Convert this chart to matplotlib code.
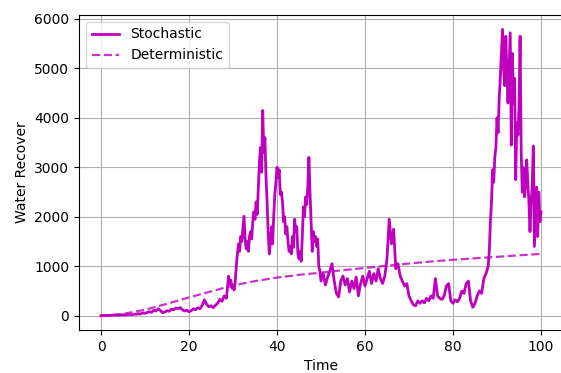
import numpy as np
import matplotlib
matplotlib.use("Agg")
import matplotlib.pyplot as plt

# ================= 数据 =================
# Stochastic: 分段给出，每段有起点和步长
seg_a_start, seg_a_step = 0.0, 0.5
seg_a_vals = [0, 3, 5, 2, 6, 10, 8, 12, 10, 15, 18, 12, 20, 25, 18, 30, 28, 40, 35, 55,
              48, 65, 80, 70, 110, 95, 140, 105, 60, 75, 100, 90, 130, 120, 155, 140, 165, 120, 95, 110,
              80, 100, 140, 120, 160, 140, 210, 320, 230, 180, 200, 160, 210, 250, 330, 290, 400, 350]

seg_b_start, seg_b_step = 29.0, 0.25
seg_b_vals = [800, 650, 720, 560, 620, 520, 680, 1000, 1250, 1450, 1300, 1600, 1500, 1750, 2010,
              1550, 1350, 1500, 1300, 1600, 1700, 1550, 1900, 2100, 1950, 2300, 2050, 2600, 3100, 3400,
              2900, 4150, 3300, 3600, 2800, 2300, 1650, 1250, 1500, 1800, 1450, 2000, 2450, 2700, 3000,
              2800, 2950, 2450, 2500, 2300, 1900, 2000, 1650, 1800, 1500, 1300, 1400, 1250, 1600, 1380,
              1950, 1700, 1800, 1250, 1150, 1300, 1100, 1600, 2200, 2000, 2400, 2250, 2600, 3200, 2500,
              1900, 1300, 1700, 1500, 1600, 1400, 1550, 1000, 900]

seg_c_start, seg_c_step = 50.0, 0.5
seg_c_vals = [700, 850, 620, 780, 900, 1050, 700, 450, 380, 700, 800, 620, 750, 480, 700, 550,
              780, 400, 650, 800, 600, 750, 900, 650, 850, 700, 950, 750, 650, 800, 1150, 1950,
              1450, 1750, 950, 1050, 800, 700, 600, 650, 400, 300, 220, 200, 300, 250, 300, 260,
              350, 300, 400, 350, 750, 400, 350, 330, 400, 600, 650, 300, 250, 320, 280, 350,
              500, 450, 650, 700, 300, 170, 250, 400, 500, 450, 750, 850]

seg_d_start, seg_d_step = 88.0, 0.25
seg_d_vals = [1000, 1300, 1900, 2300, 2950, 2700, 3200, 3400, 4000, 3700, 4400, 4800, 5300, 5790,
              5000, 4650, 5650, 4900, 4300, 5000, 5720, 3450, 5300, 4300, 4800, 2750, 3900, 3650,
              4200, 5650, 3300, 2500, 3000, 2400, 2650, 3150, 2700, 2300, 1700, 2300, 2600, 3430,
              1400, 2000, 2600, 1600, 2500, 1900, 2100]

# Deterministic
det_time = [0, 5, 10, 15, 20, 25, 30, 35, 40, 45, 50, 55, 60, 65, 70, 75, 80, 85, 90, 95, 100]
det_vals = [0, 35, 120, 240, 370, 490, 610, 700, 770, 825, 870, 920, 965, 1010, 1055, 1095,
            1130, 1160, 1190, 1220, 1250]


def build_segments():
    ts, vs = [], []
    for start, step, vals in [(seg_a_start, seg_a_step, seg_a_vals),
                              (seg_b_start, seg_b_step, seg_b_vals),
                              (seg_c_start, seg_c_step, seg_c_vals),
                              (seg_d_start, seg_d_step, seg_d_vals)]:
        ts.extend(start + step * np.arange(len(vals)))
        vs.extend(vals)
    return np.array(ts), np.array(vs)


stoch_time, stoch_vals = build_segments()

fig = plt.figure(figsize=(5.61, 3.73), dpi=100)
ax = fig.add_axes([79 / 561, 43 / 373, 484 / 561, 315 / 373])

ax.plot(stoch_time, stoch_vals, color='m', linewidth=2.0, label='Stochastic')
ax.plot(det_time, det_vals, color='m', linestyle='--', linewidth=1.6, alpha=0.8, label='Deterministic')

ax.set_xlim(-5, 105)
ax.set_xlabel('Time', fontsize=10)
ax.set_ylabel('Water Recover', fontsize=10)
ax.tick_params(axis='both', labelsize=10)
ax.grid(True)
# 原图右边框被裁掉
ax.spines['right'].set_visible(False)
ax.legend(loc='upper left', fontsize=10)

fig.savefig('out.png', dpi=100)
